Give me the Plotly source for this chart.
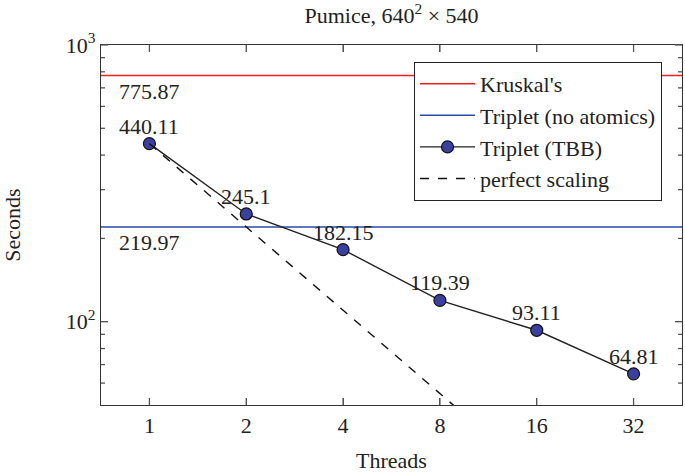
import plotly.graph_objects as go
import math

threads = [1, 2, 4, 8, 16, 32]
tbb_seconds = [440.11, 245.1, 182.15, 119.39, 93.11, 64.81]
tbb_labels = ["440.11", "245.1", "182.15", "119.39", "93.11", "64.81"]
perfect_seconds = [440.11, 220.06, 110.03, 55.01, 27.51, 13.75]
kruskal_seconds = 775.87
no_atomics_seconds = 219.97
x_span = [0.5, 64]
y_major = [100, 1000]
y_minor = [60, 70, 80, 90, 200, 300, 400, 500, 600, 700, 800, 900]

X_LO, X_HI = 2 ** -0.5, 2 ** 5.5
Y_LO, Y_HI = 50, 1000

W, H = 685, 473
ML, MR, MT, MB = 101, 3, 45, 68
PW, PH = W - ML - MR, H - MT - MB

FONT = "Liberation Serif"
FS = 22
TICK = "#555"
fig = go.Figure()

fig.add_trace(go.Scatter(x=x_span, y=[kruskal_seconds] * 2, mode="lines",
                         line=dict(color="#f0201a", width=1.5), name="Kruskal's"))
fig.add_trace(go.Scatter(x=x_span, y=[no_atomics_seconds] * 2, mode="lines",
                         line=dict(color="#2a4aa8", width=1.5), name="Triplet (no atomics)"))
fig.add_trace(go.Scatter(x=threads, y=tbb_seconds, mode="lines+markers",
                         line=dict(color="#222", width=1.4),
                         marker=dict(size=12, color="#3a3fa0", line=dict(color="#111", width=1.2)),
                         name="Triplet (TBB)", cliponaxis=False))
fig.add_trace(go.Scatter(x=threads, y=perfect_seconds, mode="lines",
                         line=dict(color="#111", width=1.4, dash="dash"),
                         name="perfect scaling"))

for t, v, lab in zip(threads, tbb_seconds, tbb_labels):
    fig.add_annotation(x=math.log10(t), y=math.log10(v), xref="x", yref="y", text=lab,
                       showarrow=False, yanchor="bottom", xanchor="center", yshift=3,
                       font=dict(family=FONT, size=FS, color="#222"))

for v in [kruskal_seconds, no_atomics_seconds]:
    fig.add_annotation(x=0, y=math.log10(v), xref="x", yref="y", text=f"{v:.2f}",
                       showarrow=False, yanchor="top", xanchor="center", yshift=-1,
                       font=dict(family=FONT, size=FS, color="#222"))

x_range = [math.log10(X_LO), math.log10(X_HI)]
y_range = [math.log10(Y_LO), math.log10(Y_HI)]

# inward tick marks on all four sides, positioned in axis-domain fractions
def xfrac(v):
    return (math.log10(v) - x_range[0]) / (x_range[1] - x_range[0])

def yfrac(v):
    return (math.log10(v) - y_range[0]) / (y_range[1] - y_range[0])

tick_line = dict(color=TICK, width=1.3)
for t in threads:
    f = xfrac(t)
    for y0, y1 in [(0, 7 / PH), (1, 1 - 7 / PH)]:
        fig.add_shape(type="line", xref="x domain", yref="y domain",
                      x0=f, x1=f, y0=y0, y1=y1, line=tick_line, layer="above")
for vals, ln in [(y_major, 7), (y_minor, 4)]:
    for v in vals:
        f = yfrac(v)
        for x0, x1 in [(0, ln / PW), (1, 1 - ln / PW)]:
            fig.add_shape(type="line", xref="x domain", yref="y domain",
                          x0=x0, x1=x1, y0=f, y1=f, line=tick_line, layer="above")

fig.update_layout(
    width=W, height=H,
    margin=dict(l=ML, r=MR, t=MT, b=MB),
    paper_bgcolor="white", plot_bgcolor="white",
    font=dict(family=FONT, size=FS, color="#222"),
    title=dict(text="Pumice, 640<sup>2</sup> × 540", x=0.5, xref="paper", xanchor="center",
               y=0.968, yanchor="middle", font=dict(family=FONT, size=FS)),
    xaxis=dict(type="log", range=x_range,
               tickmode="array", tickvals=threads, ticktext=[str(t) for t in threads],
               ticks="inside", ticklen=7, tickcolor=TICK, tickwidth=1.3, showgrid=False,
               showline=True, linecolor="#333", linewidth=1.3, mirror="allticks",
               zeroline=False, tickfont=dict(family=FONT, size=FS), automargin=False,
               title=dict(text="Threads", font=dict(family=FONT, size=FS), standoff=16)),
    yaxis=dict(type="log", range=y_range,
               tickmode="array", tickvals=y_major, ticktext=["10<sup>2</sup>", "10<sup>3</sup>"],
               ticks="inside", ticklen=7, tickcolor=TICK, tickwidth=1.3, showgrid=False,
               showline=True, linecolor="#333", linewidth=1.3, mirror="allticks",
               zeroline=False, tickfont=dict(family=FONT, size=FS), automargin=False,
               title=dict(text="Seconds", font=dict(family=FONT, size=FS), standoff=42)),
    legend=dict(x=0.9656, y=0.953, xanchor="right", yanchor="top",
                bgcolor="white", bordercolor="#222", borderwidth=1,
                font=dict(family=FONT, size=FS), itemwidth=55,
                tracegroupgap=0),
    showlegend=True,
)

fig.write_html("out.html", config={"displayModeBar": False},
               post_script="document.body.style.margin='0';")
